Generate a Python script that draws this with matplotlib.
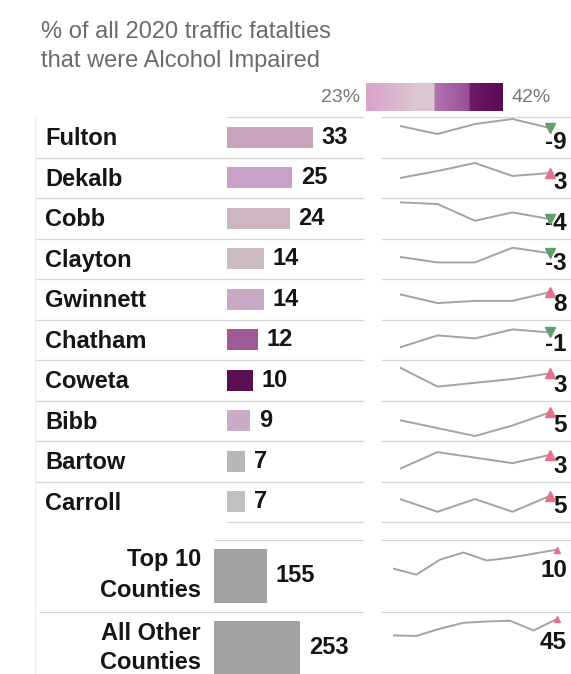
import numpy as np
import matplotlib
matplotlib.use('Agg')
import matplotlib.pyplot as plt
from matplotlib.colors import LinearSegmentedColormap

plt.rcParams['font.family'] = ['Liberation Sans', 'DejaVu Sans']

# data
counties = ['Fulton', 'Dekalb', 'Cobb', 'Clayton', 'Gwinnett',
            'Chatham', 'Coweta', 'Bibb', 'Bartow', 'Carroll']
fatalities_2020 = [33, 25, 24, 14, 14, 12, 10, 9, 7, 7]
change_vs_2019 = [-9, 3, -4, -3, 8, -1, 3, 5, 3, 5]
bar_colors = ['#c9a3bb', '#c8a2c6', '#cdb5c1', '#cbbac0', '#c7a8c5',
              '#a05b97', '#5b0f53', '#c9abc6', '#bab6b8', '#c3c0c1']

county_years = [2016, 2017, 2018, 2019, 2020]
county_trend = [
    [35, 27, 37, 42, 33],
    [20, 27, 35, 22, 25],
    [34, 33, 23, 28, 24],
    [12, 9, 9, 17, 14],
    [12, 4, 6, 6, 14],
    [7, 11, 10, 13, 12],
    [13, 3, 5, 7, 10],
    [6, 3, 0, 4, 9],
    [2, 8, 6, 4, 7],
    [6, 2, 6, 2, 7],
]
county_ylim = [(3.5, 44), (0, 40.5), (12.4, 36.6), (0, 22), (-11, 26),
               (2.8, 16.3), (-4.3, 17), (-1.9, 13.5), (-2.6, 12), (-1.2, 11.5)]

groups = ['Top 10\nCounties', 'All Other\nCounties']
group_2020 = [155, 253]
group_change = [10, 45]
group_years = [2013, 2014, 2015, 2016, 2017, 2018, 2019, 2020]
group_trend = [
    [108, 93, 130, 148, 128, 135, 145, 155],
    [189, 187, 215, 238, 243, 246, 208, 253],
]
group_ylim = [(0, 179), (0, 280)]

legend_lo, legend_hi = 23, 42

W, H = 571, 674
fig = plt.figure(figsize=(W / 100, H / 100), dpi=100)
fig.patch.set_facecolor('white')


def px_axes(x0, y0, x1, y1):
    return fig.add_axes([x0 / W, 1 - y1 / H, (x1 - x0) / W, (y1 - y0) / H])


# background layer for text and grid lines (pixel coordinates)
bg = fig.add_axes([0, 0, 1, 1])
bg.set_xlim(0, W)
bg.set_ylim(H, 0)
bg.axis('off')

grid = '#d4d4d4'
row_top, row_h = 117, 40.5
for k in range(11):
    y = row_top + k * row_h
    left = 35 if 1 <= k <= 9 else 227
    bg.plot([left, 363], [y, y], color=grid, lw=0.9)
    bg.plot([382, 571], [y, y], color=grid, lw=0.9)
for y, left in [(540, 215), (612, 40)]:
    bg.plot([left, 363], [y, y], color=grid, lw=0.9)
    bg.plot([382, 571], [y, y], color=grid, lw=0.9)
bg.plot([35, 35], [117, H], color='#efefef', lw=1)

# title
title_col = '#6b6b6b'
bg.text(41, 38, '% of all 2020 traffic fatalties', fontsize=17, color=title_col, va='baseline')
bg.text(41, 67, 'that were Alcohol Impaired', fontsize=17, color=title_col, va='baseline')

# colour legend
cmap = LinearSegmentedColormap.from_list('alc', [
    (0.0, '#d8a4c8'), (0.15, '#d9b0cc'), (0.35, '#dcc6d1'), (0.495, '#d9c9d2'),
    (0.505, '#b274b0'), (0.75, '#9a4f97'), (0.765, '#6c1866'), (1.0, '#5a0b54')])
leg = px_axes(366, 83, 503, 111)
leg.imshow(np.linspace(legend_lo, legend_hi, 256)[None, :], cmap=cmap, aspect='auto',
           extent=[legend_lo, legend_hi, 0, 1])
leg.axis('off')
bg.text(360, 102, f'{legend_lo}%', fontsize=14, color='#777777', ha='right', va='baseline')
bg.text(511, 102, f'{legend_hi}%', fontsize=14, color='#777777', ha='left', va='baseline')

name_col = '#151515'
up_col, down_col = '#e5728b', '#5f9f6e'

# county bars
axb = px_axes(227, row_top, 363, row_top + 10 * row_h)
ypos = np.arange(len(counties))
axb.barh(ypos, fatalities_2020, height=0.51, color=bar_colors)
axb.set_xlim(0, 136 / 2.61)
axb.set_ylim(len(counties) - 0.5, -0.5)
axb.axis('off')
for i, v in enumerate(fatalities_2020):
    axb.annotate(str(v), (v, i), xytext=(6.2, -4.6), textcoords='offset points',
                 fontsize=17, fontweight='bold', color=name_col, va='baseline', ha='left')

for i, name in enumerate(counties):
    yc = row_top + (i + 0.5) * row_h
    bg.text(45, yc + 8, name, fontsize=17, fontweight='bold', color=name_col, va='baseline')
    ch = change_vs_2019[i]
    bg.text(567, yc + 11.5, str(ch), fontsize=17.5, fontweight='bold', color=name_col,
            va='baseline', ha='right')

    sp = px_axes(400, row_top + i * row_h, 550, row_top + (i + 1) * row_h)
    sp.plot(county_years, county_trend[i], color='#a3a3a3', lw=1.4)
    sp.plot(county_years[-1], county_trend[i][-1], marker='^' if ch > 0 else 'v',
            ms=7, color=up_col if ch > 0 else down_col, clip_on=False)
    sp.set_xlim(county_years[0], county_years[-1])
    sp.set_ylim(*county_ylim[i])
    sp.axis('off')

# totals
axg = px_axes(214, 540, 363, 684)
gpos = np.arange(len(groups))
axg.barh(gpos, group_2020, height=0.75, color='#a2a2a2')
axg.set_xlim(0, 149 / 0.34)
axg.set_ylim(len(groups) - 0.5, -0.5)
axg.axis('off')
for i, v in enumerate(group_2020):
    axg.annotate(str(v), (v, i), xytext=(6.4, -4.2), textcoords='offset points',
                 fontsize=17, fontweight='bold', color=name_col, va='baseline', ha='left')

for i, label in enumerate(groups):
    top = 540 + i * 72
    yc = top + 36
    l1, l2 = label.split('\n')
    bg.text(201, yc - 10 + (2 if i else 0), l1, fontsize=17, fontweight='bold', color=name_col,
            ha='right', va='baseline')
    bg.text(201, yc + 21, l2, fontsize=17, fontweight='bold', color=name_col,
            ha='right', va='baseline')
    bg.text(567, yc + 1, str(group_change[i]), fontsize=17.5, fontweight='bold',
            color=name_col, ha='right', va='baseline')

    sp = px_axes(393, top, 557, top + 72)
    sp.plot(group_years, group_trend[i], color='#a3a3a3', lw=1.4)
    sp.plot(group_years[-1], group_trend[i][-1], marker='^', ms=4.5, color=up_col, clip_on=False)
    sp.set_xlim(group_years[0], group_years[-1])
    sp.set_ylim(*group_ylim[i])
    sp.axis('off')

fig.savefig('out.png', dpi=100, facecolor='white')
